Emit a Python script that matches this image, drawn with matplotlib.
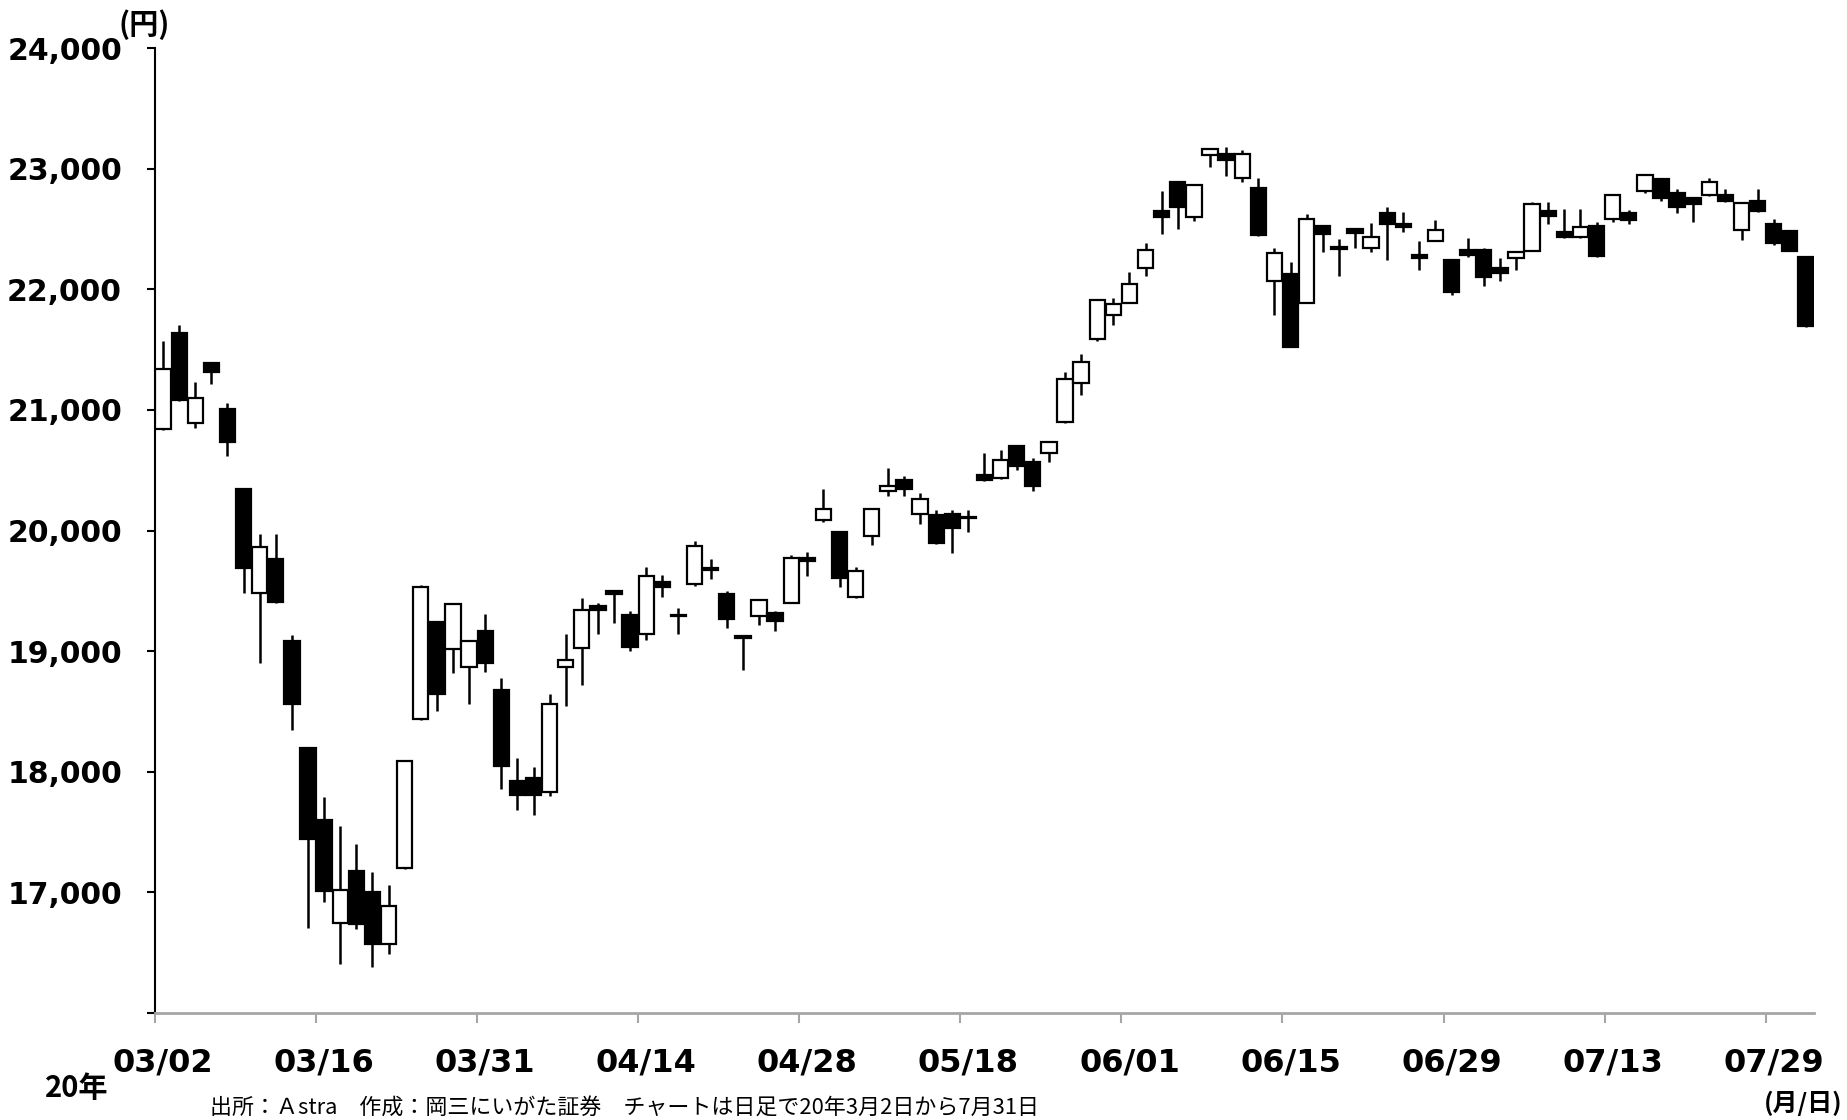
import numpy as np
import matplotlib
matplotlib.use("Agg")
import matplotlib.pyplot as plt

# Daily OHLC, 2020-03-02 .. 2020-07-31 (yen)
dates = [
    "03/02", "03/03", "03/04", "03/05", "03/06", "03/09", "03/10", "03/11", "03/12", "03/13",
    "03/16", "03/17", "03/18", "03/19", "03/23", "03/24", "03/25", "03/26", "03/27", "03/30",
    "03/31", "04/01", "04/02", "04/03", "04/06", "04/07", "04/08", "04/09", "04/10", "04/13",
    "04/14", "04/15", "04/16", "04/17", "04/20", "04/21", "04/22", "04/23", "04/24", "04/27",
    "04/28", "04/30", "05/01", "05/07", "05/08", "05/11", "05/12", "05/13", "05/14", "05/15",
    "05/18", "05/19", "05/20", "05/21", "05/22", "05/25", "05/26", "05/27", "05/28", "05/29",
    "06/01", "06/02", "06/03", "06/04", "06/05", "06/08", "06/09", "06/10", "06/11", "06/12",
    "06/15", "06/16", "06/17", "06/18", "06/19", "06/22", "06/23", "06/24", "06/25", "06/26",
    "06/29", "06/30", "07/01", "07/02", "07/03", "07/06", "07/07", "07/08", "07/09", "07/10",
    "07/13", "07/14", "07/15", "07/16", "07/17", "07/20", "07/21", "07/22", "07/27", "07/28",
    "07/29", "07/30", "07/31",
]

opens = [
    20845, 21640, 20890, 21390, 21005, 20340, 19480, 19760, 19080, 18200,
    17600, 16750, 17175, 17000, 16575, 17200, 18435, 19240, 19015, 18865,
    19170, 18675, 17925, 17945, 17835, 18865, 19030, 19370, 19495, 19300,
    19145, 19575, 19300, 19555, 19685, 19470, 19125, 19290, 19320, 19400,
    19770, 20085, 19990, 19445, 19955, 20330, 20420, 20135, 20130, 20135,
    20115, 20460, 20435, 20700, 20565, 20645, 20900, 21225, 21590, 21790,
    21890, 22175, 22645, 22885, 22600, 23115, 23120, 22925, 22840, 22070,
    22130, 21890, 22525, 22350, 22500, 22345, 22630, 22545, 22285, 22400,
    22240, 22325, 22325, 22180, 22255, 22320, 22650, 22475, 22430, 22525,
    22580, 22635, 22815, 22910, 22800, 22760, 22780, 22780, 22495, 22735,
    22545, 22485, 22270,
]

highs = [
    21570, 21700, 21235, 21395, 21060, 20345, 19970, 19970, 19135, 18205,
    17790, 17550, 17405, 17165, 17060, 18100, 19550, 19245, 19395, 19090,
    19310, 18775, 18110, 18040, 18645, 19140, 19440, 19400, 19500, 19335,
    19700, 19630, 19355, 19910, 19760, 19500, 19130, 19430, 19335, 19800,
    19825, 20340, 19995, 19695, 20180, 20515, 20450, 20315, 20170, 20170,
    20170, 20645, 20665, 20705, 20600, 20740, 21310, 21465, 21920, 21930,
    22145, 22380, 22815, 22890, 22870, 23170, 23180, 23155, 22920, 22340,
    22230, 22620, 22530, 22420, 22505, 22550, 22685, 22640, 22400, 22575,
    22245, 22425, 22340, 22255, 22315, 22725, 22725, 22665, 22665, 22555,
    22785, 22660, 22950, 22915, 22835, 22765, 22920, 22835, 22720, 22835,
    22580, 22495, 22275,
]

lows = [
    20835, 21070, 20850, 21215, 20615, 19480, 18900, 19395, 18350, 16705,
    16920, 16410, 16700, 16380, 16485, 17190, 18430, 18500, 18820, 18565,
    18825, 17855, 17685, 17645, 17800, 18545, 18720, 19145, 19235, 19000,
    19090, 19450, 19145, 19540, 19600, 19190, 18840, 19215, 19170, 19400,
    19620, 20070, 19535, 19440, 19880, 20285, 20285, 20050, 19890, 19815,
    19990, 20410, 20430, 20500, 20330, 20565, 20895, 21120, 21575, 21700,
    21890, 22110, 22460, 22500, 22565, 23015, 22935, 22890, 22445, 21790,
    21520, 21885, 22305, 22110, 22345, 22305, 22240, 22475, 22160, 22400,
    21955, 22270, 22025, 22070, 22160, 22315, 22540, 22425, 22425, 22270,
    22560, 22540, 22800, 22735, 22630, 22560, 22775, 22725, 22410, 22640,
    22365, 22315, 21690,
]

closes = [
    21340, 21080, 21100, 21315, 20735, 19690, 19865, 19410, 18560, 17440,
    17015, 17020, 16735, 16570, 16890, 18090, 19535, 18645, 19390, 19085,
    18905, 18045, 17810, 17810, 18565, 18930, 19340, 19345, 19470, 19035,
    19620, 19530, 19290, 19870, 19670, 19265, 19110, 19425, 19250, 19770,
    19750, 20175, 19610, 19665, 20175, 20370, 20345, 20260, 19895, 20020,
    20100, 20415, 20585, 20535, 20365, 20735, 21255, 21400, 21915, 21875,
    22045, 22325, 22600, 22685, 22865, 23165, 23070, 23120, 22450, 22300,
    21525, 22580, 22455, 22330, 22470, 22430, 22540, 22520, 22260, 22495,
    21975, 22280, 22105, 22135, 22310, 22710, 22605, 22430, 22515, 22275,
    22780, 22575, 22945, 22755, 22685, 22705, 22885, 22730, 22715, 22645,
    22380, 22320, 21695,
]

y_ticks = list(range(16000, 24001, 1000))
tick_every = 10
tick_labels = dates[::tick_every]

jp_font = ["Noto Sans CJK JP", "DejaVu Sans"]

opens = np.array(opens)
closes = np.array(closes)
n = len(dates)
x = np.arange(n) + 0.5

fig = plt.figure(figsize=(18.47, 11.2), dpi=100)
ax = fig.add_axes([155 / 1847, 1 - 1013 / 1120, (1814 - 155) / 1847, (1013 - 48) / 1120])

# wicks first, bodies on top
ax.vlines(x, lows, highs, color="black", linewidth=1.8, zorder=2)
body_colors = np.where(closes >= opens, "white", "black")
ax.bar(x, closes - opens, bottom=opens, width=0.95, color=body_colors,
       edgecolor="black", linewidth=1.6, zorder=3)

ax.set_xlim(0, n)
ax.set_ylim(16000, 24000)

ax.set_yticks(y_ticks)
ax.set_yticklabels(["" if v == 16000 else f"{v:,}" for v in y_ticks],
                   fontsize=21.5, fontweight="bold")
ax.tick_params(axis="y", direction="out", length=5.8, width=1.5, color="black", pad=18)

ax.set_xticks(np.arange(0, n, tick_every))
ax.set_xticklabels([])
ax.set_xticks(np.arange(0, n, tick_every) + 0.5, minor=True)
ax.set_xticklabels(tick_labels, minor=True, fontsize=23, fontweight="bold")
ax.tick_params(axis="x", which="major", direction="out", length=7, width=1.5, color="#a6a6a6")
ax.tick_params(axis="x", which="minor", length=0, pad=25)

for side in ["top", "right"]:
    ax.spines[side].set_visible(False)
ax.spines["left"].set_linewidth(1.5)
ax.spines["left"].set_color("black")
ax.spines["bottom"].set_linewidth(2)
ax.spines["bottom"].set_color("#a6a6a6")

fig.text(144 / 1847, 1 - 25 / 1120, "(円)", family=jp_font, fontsize=21,
         fontweight="bold", ha="center", va="center")
fig.text(45 / 1847, 1 - 1088 / 1120, "20年", family=jp_font, fontsize=21,
         fontweight="bold", ha="left", va="center")
fig.text(1803 / 1847, 1 - 1103 / 1120, "(月/日)", family=jp_font, fontsize=18,
         fontweight="bold", ha="center", va="center")
fig.text(210 / 1847, 1 - 1108 / 1120,
         "出所：Ａstra　作成：岡三にいがた証券　チャートは日足で20年3月2日から7月31日",
         family=jp_font, fontsize=15.8, ha="left", va="center")

fig.savefig("out.png", dpi=100)
